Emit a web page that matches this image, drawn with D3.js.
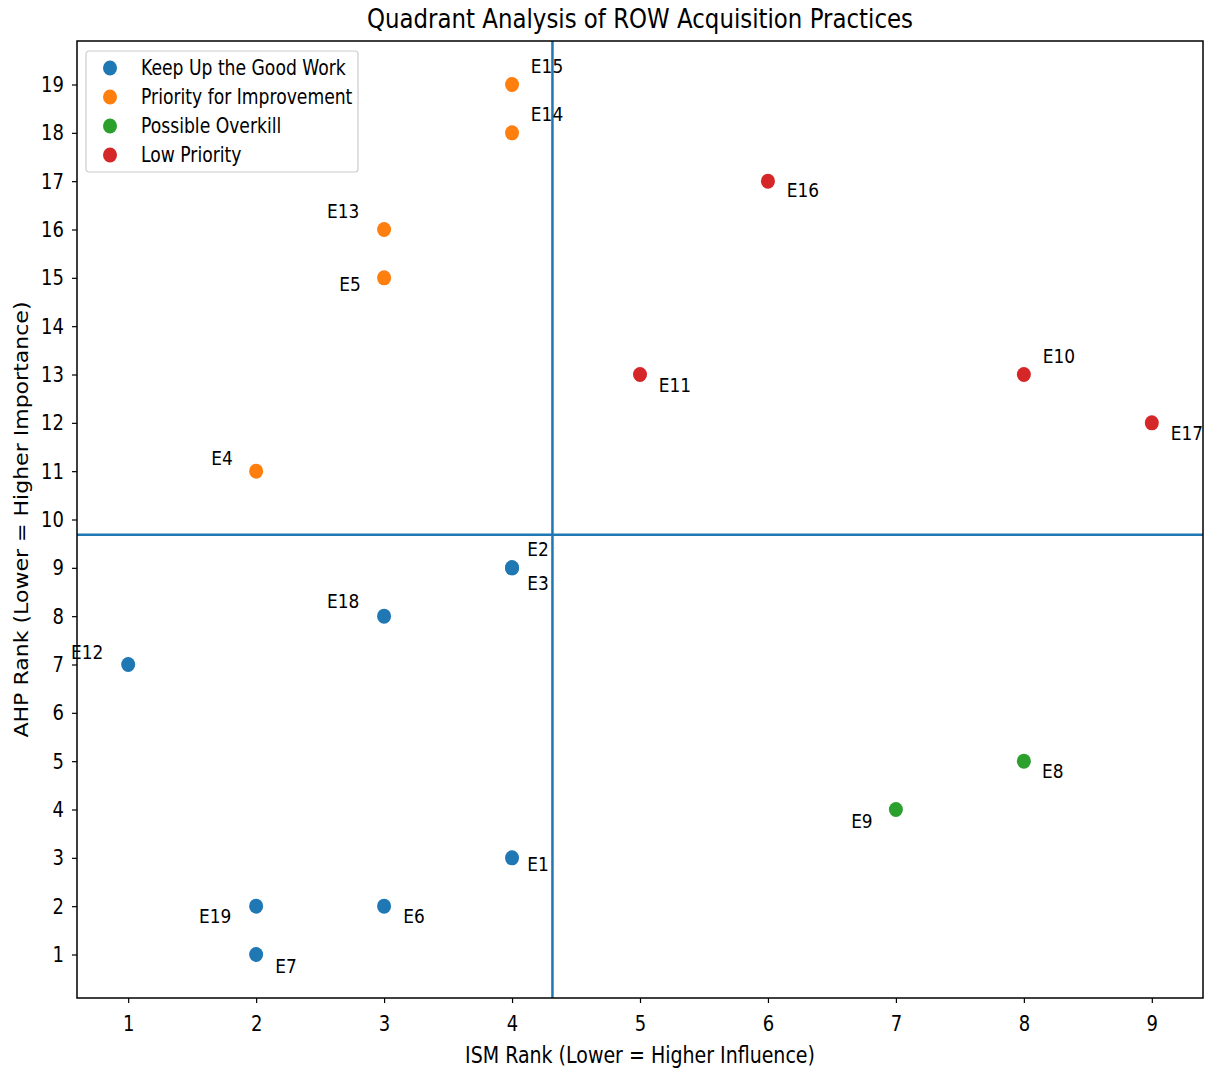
<!DOCTYPE html>
<html>
<head>
<meta charset="utf-8">
<script src="https://cdn.jsdelivr.net/npm/d3@7"></script>
<style>
  body { margin: 0; background: #fff; }
  svg text { font-family: "DejaVu Sans", sans-serif; fill: #000; }
</style>
</head>
<body>
<div id="chart"></div>
<script>
// data
var names    = ['E1','E2','E3','E4','E5','E6','E7','E8','E9','E10','E11','E12','E13','E14','E15','E16','E17','E18','E19'];
var ismRank  = [4, 4, 4, 2, 3, 3, 2, 8, 7, 8, 5, 1, 3, 4, 4, 6, 9, 3, 2];
var ahpRank  = [3, 9, 9, 11, 15, 2, 1, 5, 4, 13, 13, 7, 16, 18, 19, 17, 12, 8, 2];
var quadrant = ['Keep Up the Good Work','Keep Up the Good Work','Keep Up the Good Work','Priority for Improvement',
  'Priority for Improvement','Keep Up the Good Work','Keep Up the Good Work','Possible Overkill','Possible Overkill',
  'Low Priority','Low Priority','Keep Up the Good Work','Priority for Improvement','Priority for Improvement',
  'Priority for Improvement','Low Priority','Low Priority','Keep Up the Good Work','Keep Up the Good Work'];
var categories = ['Keep Up the Good Work', 'Priority for Improvement', 'Possible Overkill', 'Low Priority'];
var colors     = ['#1f77b4', '#ff7f0e', '#2ca02c', '#d62728'];
var xTicks = [1, 2, 3, 4, 5, 6, 7, 8, 9];
var yTicks = [1, 2, 3, 4, 5, 6, 7, 8, 9, 10, 11, 12, 13, 14, 15, 16, 17, 18, 19];
// label nudges (px) as placed in the original
var labelDx = [26, 26, 26, -34, -34, 30, 30, 29, -34, 35, 35, -41, -41, 35, 35, 35, 35, -41, -41];
var labelDy = [6, -19, 15, -13, 6, 10, 11, 10, 11, -19, 10, -13, -19, -19, -19, 9, 10, -15, 10];

var W = 1205, H = 1068;
var K = 1.18; // the original picture is stretched a bit vertically
var margin = { top: 41, right: 2, bottom: 70, left: 77 };
var width = W - margin.left - margin.right;
var height = H - margin.top - margin.bottom;

var svg = d3.select('#chart').append('svg')
  .attr('width', W).attr('height', H);
var g = svg.append('g')
  .attr('transform', 'translate(' + margin.left + ',' + margin.top + ')');

var x = d3.scaleLinear().domain([0.6, 9.4]).range([0, width]);
var y = d3.scaleLinear().domain([0.1, 19.9]).range([height, 0]);
var color = d3.scaleOrdinal().domain(categories).range(colors);

var data = names.map(function(n, i) {
  return { name: n, ism: ismRank[i], ahp: ahpRank[i], q: quadrant[i], dx: labelDx[i], dy: labelDy[i] };
});

// put a text at (px,py) with the vertical stretch
function stretched(sel, px, py) {
  return sel.attr('transform', 'translate(' + px + ',' + py + ') scale(1,' + K + ')');
}

// axes
var xAxis = g.append('g')
  .attr('transform', 'translate(0,' + height + ')')
  .call(d3.axisBottom(x).tickValues(xTicks).tickSize(5).tickPadding(8).tickFormat(d3.format('d')));
var yAxis = g.append('g')
  .call(d3.axisLeft(y).tickValues(yTicks).tickSize(5).tickPadding(6).tickFormat(d3.format('d')));
[xAxis, yAxis].forEach(function(a) {
  a.select('.domain').remove();
  a.selectAll('line').attr('stroke', '#000').attr('stroke-width', 1.2);
  a.selectAll('text').style('font-size', '18px').style('font-family', '"DejaVu Sans", sans-serif');
});
xAxis.selectAll('text').attr('y', 0).attr('dy', null)
  .attr('dominant-baseline', 'central')
  .attr('transform', 'translate(0,26) scale(1,' + K + ')');
yAxis.selectAll('text').attr('x', 0).attr('dy', null)
  .attr('dominant-baseline', 'central')
  .attr('transform', 'translate(-13,0) scale(1,' + K + ')');

// quadrant lines at means
var meanX = d3.mean(ismRank), meanY = d3.mean(ahpRank);
g.append('line')
  .attr('x1', x(meanX)).attr('x2', x(meanX)).attr('y1', 0).attr('y2', height)
  .attr('stroke', '#1f77b4').attr('stroke-width', 2.5);
g.append('line')
  .attr('x1', 0).attr('x2', width).attr('y1', y(meanY)).attr('y2', y(meanY))
  .attr('stroke', '#1f77b4').attr('stroke-width', 2.5);

// points
g.selectAll('ellipse.pt').data(data).enter().append('ellipse')
  .attr('class', 'pt')
  .attr('cx', function(d) { return x(d.ism); })
  .attr('cy', function(d) { return y(d.ahp); })
  .attr('rx', 7).attr('ry', 7.5)
  .attr('fill', function(d) { return color(d.q); });

// labels
g.selectAll('text.lbl').data(data).enter().append('text')
  .attr('class', 'lbl')
  .attr('transform', function(d) {
    return 'translate(' + (x(d.ism) + d.dx) + ',' + (y(d.ahp) + d.dy) + ') scale(1,' + K + ')';
  })
  .attr('text-anchor', 'middle')
  .attr('dominant-baseline', 'central')
  .style('font-size', '17px')
  .text(function(d) { return d.name; });

// frame
g.append('rect')
  .attr('width', width).attr('height', height)
  .attr('fill', 'none').attr('stroke', '#000').attr('stroke-width', 1.5);

// legend
var leg = g.append('g').attr('transform', 'translate(9,10)');
leg.append('rect')
  .attr('width', 272).attr('height', 121).attr('rx', 3)
  .attr('fill', '#fff').attr('fill-opacity', 0.8)
  .attr('stroke', '#cccccc').attr('stroke-width', 1.2);
categories.forEach(function(c, i) {
  var row = leg.append('g').attr('transform', 'translate(0,' + (17 + i * 29) + ')');
  row.append('ellipse').attr('cx', 24).attr('cy', 0).attr('rx', 7).attr('ry', 7.5).attr('fill', color(c));
  stretched(row.append('text'), 55, 0)
    .attr('dominant-baseline', 'central')
    .style('font-size', '17.2px').text(c);
});

// titles
stretched(svg.append('text'), margin.left + width / 2, 19)
  .attr('text-anchor', 'middle').attr('dominant-baseline', 'central')
  .style('font-size', '22.9px')
  .text('Quadrant Analysis of ROW Acquisition Practices');
stretched(svg.append('text'), margin.left + width / 2, 1055)
  .attr('text-anchor', 'middle').attr('dominant-baseline', 'central')
  .style('font-size', '19px')
  .text('ISM Rank (Lower = Higher Influence)');
svg.append('text')
  .attr('transform', 'translate(22,' + (margin.top + height / 2) + ') rotate(-90) scale(' + 1.16 + ',1)')
  .attr('text-anchor', 'middle').attr('dominant-baseline', 'central')
  .style('font-size', '19px')
  .text('AHP Rank (Lower = Higher Importance)');
</script>
</body>
</html>
